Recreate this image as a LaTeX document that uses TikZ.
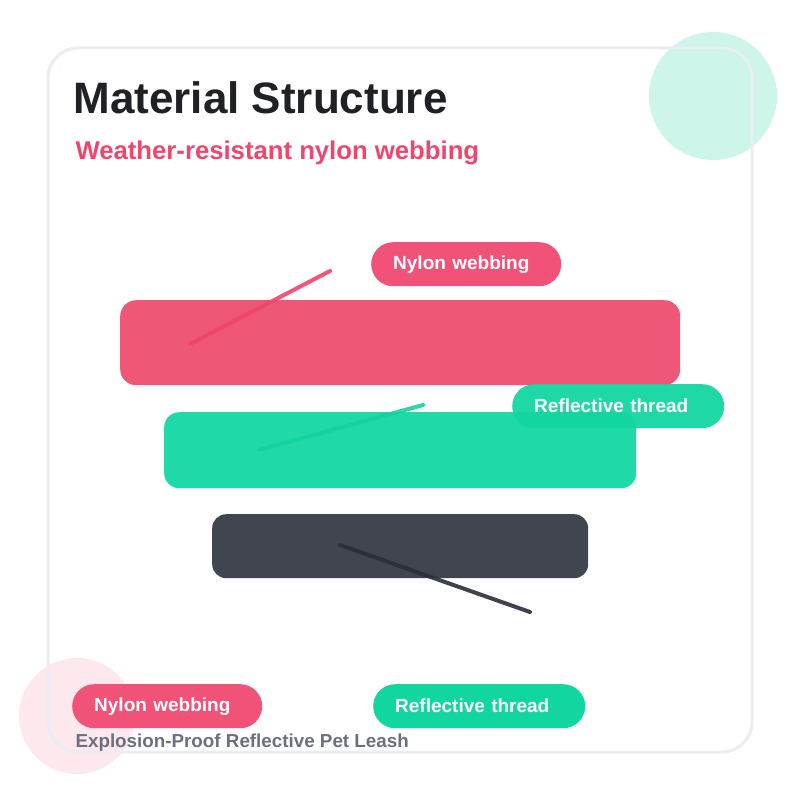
\documentclass[tikz,border=0pt]{standalone}
\usepackage{fontspec}
\setmainfont{Liberation Sans}

\definecolor{inkdark}{HTML}{202124}
\definecolor{rosebar}{HTML}{EF5779}
\definecolor{rosepill}{HTML}{F05278}
\definecolor{roseline}{HTML}{F0456E}
\definecolor{tealbar}{HTML}{20D9A8}
\definecolor{tealpill}{HTML}{12D6A0}
\definecolor{tealline}{HTML}{14D39C}
\definecolor{slatebar}{HTML}{414550}
\definecolor{slateline}{HTML}{2B2E3A}
\definecolor{framegray}{HTML}{EAEDF3}
\definecolor{mintpale}{HTML}{CDF5EA}
\definecolor{pinkpale}{HTML}{FDE8EE}
\definecolor{footgray}{HTML}{6B7080}

\begin{document}
\begin{tikzpicture}
        [
            x=1pt,
            y=-1pt,
            layer/.style={
                rounded corners=15pt,
                inner sep=0pt,
                anchor=north west
            },
            pill/.style={
                rounded corners=22pt,
                minimum height=44pt,
                inner xsep=22pt,
                inner ysep=0pt,
                anchor=north west,
                align=left,
                text=white,
                font=\fontsize{19}{22}\selectfont\bfseries
            },
            leader/.style={
                line width=4pt,
                line cap=round
            }
         ]
        \useasboundingbox (0,0) rectangle (800,800);
        \fill[mintpale] (713,96) circle (64pt);
        \fill[pinkpale] (77,716) circle (58pt);
        \draw[framegray, line width=3pt, rounded corners=30pt] (48,48) rectangle (752,752);

        \node[anchor=base west, text=inkdark, font=\fontsize{44}{50}\selectfont\bfseries] (title) at (70,113) {Material Structure};
        \node[anchor=base west, text=roseline, font=\fontsize{25.7}{30}\selectfont\bfseries] (subtitle) at (72,159) {Weather-resistant nylon webbing};

        \node[layer, fill=rosebar, minimum width=560pt, minimum height=85pt, rounded corners=16pt] (nylon) at (120,300) {};
        \node[layer, fill=tealbar, minimum width=472pt, minimum height=76pt] (thread) at (164,412) {};
        \node[layer, fill=slatebar, minimum width=376pt, minimum height=64pt, rounded corners=14pt] (core) at (212,514) {};

        \coordinate (nylon foot) at (190,344);
        \coordinate (nylon tip) at (330,271);
        \coordinate (thread foot) at (259,450);
        \coordinate (thread tip) at (423,405);
        \coordinate (core foot) at (340,545);
        \coordinate (core tip) at (530,612);
        \draw[leader, roseline, opacity=.9] (nylon foot) -- (nylon tip);
        \draw[leader, tealline, opacity=.9] (thread foot) -- (thread tip);
        \draw[leader, slateline, opacity=.9] (core foot) -- (core tip);

        \node[pill, fill=rosepill, text width=146pt] (nylon label) at (371,242) {Nylon webbing};
        \node[pill, fill=tealpill, text width=168pt, fill opacity=.95, text opacity=1] (thread label) at (512,384) {Reflective thread};

        \node[pill, fill=rosepill, text width=146pt] (nylon key) at (72,684) {Nylon webbing};
        \node[pill, fill=tealpill, text width=168pt] (thread key) at (373,684) {Reflective thread};

        \node[anchor=base west, text=footgray, font=\fontsize{18.8}{22}\selectfont\bfseries] (footer) at (72,747) {Explosion-Proof Reflective Pet Leash};
    \end{tikzpicture}
\end{document}
